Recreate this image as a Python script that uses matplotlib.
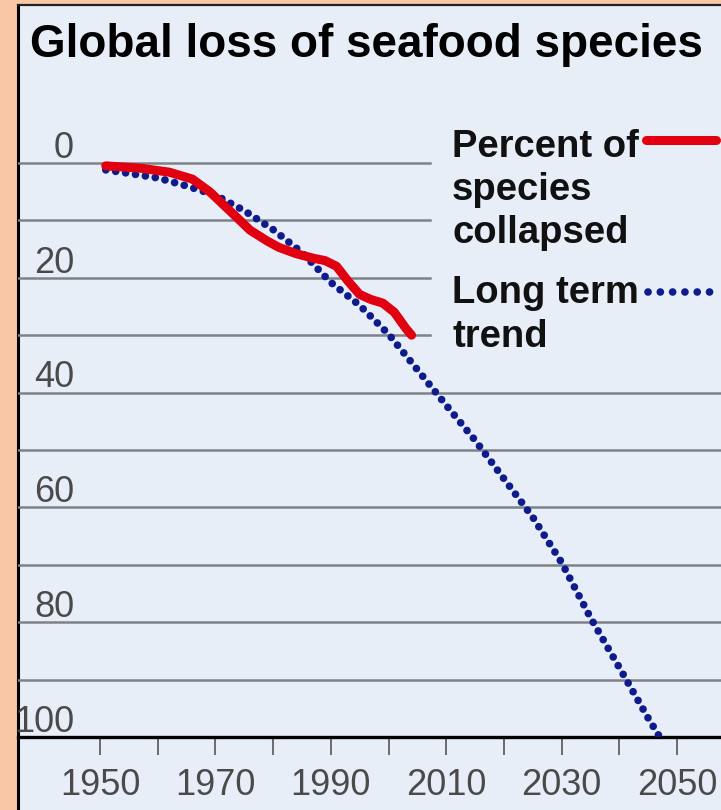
import matplotlib
matplotlib.use("Agg")
import matplotlib.pyplot as plt
from matplotlib.lines import Line2D
from matplotlib.patches import Rectangle

# Percent of species collapsed
collapse_years = [1951, 1954, 1957, 1962, 1966, 1969, 1973, 1976, 1979, 1981, 1984,
                  1987, 1989, 1991, 1993, 1995, 1997, 1999, 2001, 2003, 2004]
collapse_pct = [0.5, 0.7, 0.9, 1.6, 2.8, 5.0, 8.8, 11.7, 13.6, 14.7, 15.8,
                16.6, 17.0, 18.0, 20.6, 22.9, 23.8, 24.4, 26.0, 28.8, 30.0]

# Long term trend
trend_years = [1951, 1955, 1960, 1965, 1970, 1975, 1980, 1985, 1990, 1995, 2000,
               2005, 2010, 2015, 2020, 2025, 2030, 2035, 2040, 2045, 2047]
trend_pct = [1.2, 1.8, 2.6, 4.0, 5.6, 8.3, 11.6, 15.6, 20.8, 24.8, 29.8,
             36.0, 42.2, 48.3, 55.0, 61.7, 69.6, 79.2, 87.9, 96.7, 100.0]

y_ticks = [0, 20, 40, 60, 80, 100]
x_ticks = list(range(1950, 2051, 10))
x_labels = [str(y) if (y - 1950) % 20 == 0 else "" for y in x_ticks]

legend_collapse = ["Percent of", "species", "collapsed"]
legend_trend = ["Long term", "trend"]

ORANGE = "#f7c7a6"
PANEL = "#e8eef8"
RED = "#e0000f"
NAVY = "#0d1b8c"
GRID = "#7e8188"
LABEL = "#4a4a4a"
NUM_FONT = ["Liberation Sans", "DejaVu Sans"]

W, H = 721, 810
fig = plt.figure(figsize=(W / 100, H / 100), dpi=100, facecolor=ORANGE)

# white-blue panel with black left/top border
fig.patches.append(Rectangle((18 / W, 0), 1 - 18 / W, 1 - 5 / H,
                             transform=fig.transFigure, facecolor=PANEL,
                             edgecolor="none", zorder=-2))
fig.lines.append(Line2D([18 / W, 18 / W], [0, 1 - 5 / H], transform=fig.transFigure,
                        color="black", lw=2.2, zorder=-1))
fig.lines.append(Line2D([18 / W, 1], [1 - 5 / H, 1 - 5 / H], transform=fig.transFigure,
                        color="#222222", lw=1.6, zorder=-1))

ax = fig.add_axes([18 / W, (H - 737) / H, (W - 18) / W, (737 - 120) / H])
ax.set_facecolor("none")
px_per_year = 5.77
px_per_pct = 5.74
ax.set_xlim(1950 - 82 / px_per_year, 1950 + 621 / px_per_year)
ax.set_ylim(100, -43 / px_per_pct)

for s in ["top", "right", "left"]:
    ax.spines[s].set_visible(False)
ax.spines["bottom"].set_linewidth(2.4)
ax.spines["bottom"].set_color("black")

# horizontal grid; upper lines stop short of the legend
for v in range(0, 100, 10):
    ax.axhline(v, xmin=0, xmax=0.586 if v < 40 else 1, color=GRID, lw=1.8, zorder=1)

# y labels sit just above their gridlines
ytrans = ax.get_yaxis_transform()
for v in y_ticks:
    ax.text(0.0797, v - 0.9, str(v), transform=ytrans, ha="right", va="baseline",
            fontsize=26, color=LABEL, family=NUM_FONT, clip_on=False)

ax.set_yticks([])
ax.set_xticks(x_ticks)
ax.set_xticklabels(x_labels, fontsize=26, color=LABEL, family=NUM_FONT)
ax.tick_params(axis="x", direction="out", length=13, width=1.2, color="#555555", pad=9)

ax.plot(trend_years, trend_pct, color=NAVY, lw=5.5, linestyle=(0, (0.01, 1.3)),
        dash_capstyle="round", zorder=3)
ax.plot(collapse_years, collapse_pct, color=RED, lw=6.5, solid_capstyle="round",
        solid_joinstyle="round", zorder=4)

# title
fig.text(30 / W, 1 - 57 / H, "Global loss of seafood species", fontsize=33,
         fontweight="bold", color="black", va="baseline",
         family=["Liberation Sans", "DejaVu Sans"])

# legend, drawn by hand
leg_font = dict(fontsize=27.5, fontweight="bold", color="#111111", va="baseline",
                family=["Liberation Sans", "DejaVu Sans"])
for line, base in zip(legend_collapse, [157, 200, 243]):
    fig.text(452 / W, 1 - base / H, line, **leg_font)
for line, base in zip(legend_trend, [303, 347]):
    fig.text(452 / W, 1 - base / H, line, **leg_font)
fig.lines.append(Line2D([646 / W, 716 / W], [1 - 140 / H, 1 - 140 / H],
                        transform=fig.transFigure, color=RED, lw=6.5,
                        solid_capstyle="round"))
fig.lines.append(Line2D([648 / W, 716 / W], [1 - 292 / H, 1 - 292 / H],
                        transform=fig.transFigure, color=NAVY, lw=5.5,
                        linestyle=(0, (0.01, 1.6)), dash_capstyle="round"))

fig.savefig("out.png", dpi=100, facecolor=ORANGE)
